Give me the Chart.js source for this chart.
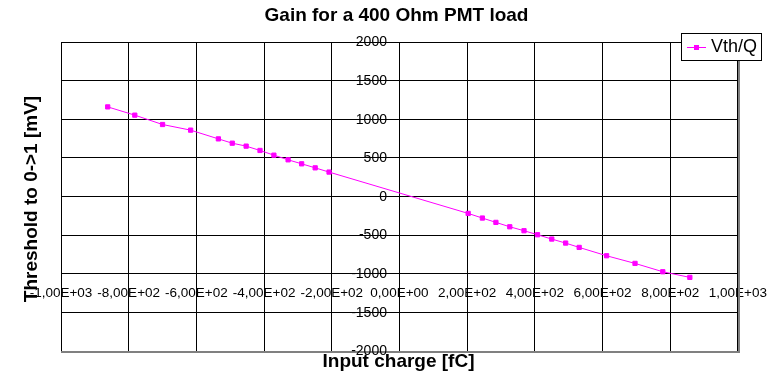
<!DOCTYPE html>
<html><head><meta charset="utf-8">
<script src="https://cdn.jsdelivr.net/npm/chart.js@4/dist/chart.umd.min.js"></script>
<style>html,body{margin:0;padding:0;background:#fff}#wrap{width:774px;height:382px;position:relative}</style>
</head><body><div id="wrap"><canvas id="c" width="774" height="382"></canvas></div>
<script>
const chartTitle = 'Gain for a 400 Ohm PMT load';
const xAxisTitle = 'Input charge [fC]';
const yAxisTitle = 'Threshold to 0->1 [mV]';
const seriesName = 'Vth/Q';
const chargeFC = [-862, -782, -700, -617, -535, -494, -453, -412, -371, -329, -289, -249, -208,
                  203, 245, 285, 326, 368, 408, 450, 491, 531, 612, 696, 778, 858];
const thresholdMV = [1160, 1053, 932, 859, 746, 690, 652, 596, 535, 475, 423, 371, 316,
                     -219, -279, -335, -392, -443, -495, -551, -603, -659, -767, -866, -974, -1047];
const xTickValues = [-1000, -800, -600, -400, -200, 0, 200, 400, 600, 800, 1000];
const xTickLabels = ['-1,00E+03', '-8,00E+02', '-6,00E+02', '-4,00E+02', '-2,00E+02', '0,00E+00',
                     '2,00E+02', '4,00E+02', '6,00E+02', '8,00E+02', '1,00E+03'];
const yTickValues = [-2000, -1500, -1000, -500, 0, 500, 1000, 1500, 2000];
const yTickLabels = ['-2000', '-1500', '-1000', '-500', '0', '500', '1000', '1500', '2000'];

const FONT = "'Liberation Sans', Arial, sans-serif";
const LINE_COLOR = '#FF00FF';

const points = chargeFC.map((x, i) => ({x: x, y: thresholdMV[i]}));

const decor = {
  id: 'decor',
  afterDraw(chart) {
    const ctx = chart.ctx;
    const xs = chart.scales.x, ys = chart.scales.y;
    const ca = chart.chartArea;
    ctx.save();
    // shadowed right/bottom frame
    ctx.fillStyle = '#808080';
    ctx.fillRect(Math.round(ca.right), Math.round(ca.top), 2, Math.round(ca.bottom - ca.top) + 2);
    ctx.fillRect(Math.round(ca.left), Math.round(ca.bottom), Math.round(ca.right - ca.left) + 2, 2);
    // y tick labels
    ctx.fillStyle = '#000';
    ctx.font = '14px ' + FONT;
    ctx.textAlign = 'right';
    ctx.textBaseline = 'middle';
    const x0 = xs.getPixelForValue(0);
    yTickValues.forEach((v, i) => {
      ctx.fillText(yTickLabels[i], x0 - 12.5, ys.getPixelForValue(v) + 0.5);
    });
    // titles
    ctx.font = 'bold 19px ' + FONT;
    ctx.textAlign = 'center';
    ctx.textBaseline = 'alphabetic';
    ctx.fillText(chartTitle, 396.5, 21);
    ctx.fillText(xAxisTitle, 398.5, 367);
    ctx.save();
    ctx.translate(37, 199);
    ctx.rotate(-Math.PI / 2);
    ctx.fillText(yAxisTitle, 0, 0);
    ctx.restore();
    // legend
    ctx.fillStyle = '#fff';
    ctx.fillRect(681.5, 33.5, 80, 27);
    ctx.strokeStyle = '#000';
    ctx.lineWidth = 1;
    ctx.strokeRect(681.5, 33.5, 80, 27);
    ctx.strokeStyle = LINE_COLOR;
    ctx.beginPath();
    ctx.moveTo(687, 47.5);
    ctx.lineTo(706, 47.5);
    ctx.stroke();
    ctx.fillStyle = LINE_COLOR;
    ctx.fillRect(694, 45, 5, 5);
    ctx.fillStyle = '#000';
    ctx.font = '18px ' + FONT;
    ctx.textAlign = 'left';
    ctx.textBaseline = 'middle';
    ctx.fillText(seriesName, 711, 47.5);
    ctx.restore();
  }
};

new Chart(document.getElementById('c'), {
  type: 'scatter',
  data: {
    datasets: [{
      label: seriesName,
      data: points,
      showLine: true,
      borderColor: LINE_COLOR,
      backgroundColor: LINE_COLOR,
      borderWidth: 1,
      pointStyle: 'rect',
      pointRadius: 3,
      pointBorderWidth: 1,
      pointBorderColor: LINE_COLOR,
      pointBackgroundColor: LINE_COLOR,
      tension: 0
    }]
  },
  options: {
    responsive: false,
    animation: false,
    devicePixelRatio: 1,
    layout: {padding: {left: 61, top: 42, right: 36, bottom: 31}},
    plugins: {legend: {display: false}, title: {display: false}, tooltip: {enabled: false}},
    scales: {
      x: {
        type: 'linear',
        min: -1000, max: 1000,
        position: {y: -1000},
        afterBuildTicks: (s) => { s.ticks = xTickValues.map(v => ({value: v})); },
        ticks: {
          autoSkip: false, maxRotation: 0, minRotation: 0,
          padding: 7,
          color: '#000',
          font: {family: FONT, size: 13.5},
          callback: (v) => xTickLabels[xTickValues.indexOf(v)]
        },
        grid: {color: '#000', lineWidth: 1, drawTicks: true, tickLength: 4, tickColor: '#000'},
        border: {display: true, color: '#000', width: 1}
      },
      y: {
        type: 'linear',
        min: -2000, max: 2000,
        position: {x: 0},
        afterBuildTicks: (s) => { s.ticks = yTickValues.map(v => ({value: v})); },
        ticks: {display: false},
        grid: {color: '#000', lineWidth: 1, drawTicks: true, tickLength: 4, tickColor: '#000'},
        border: {display: true, color: '#000', width: 1}
      }
    }
  },
  plugins: [decor]
});
</script>
</body></html>
